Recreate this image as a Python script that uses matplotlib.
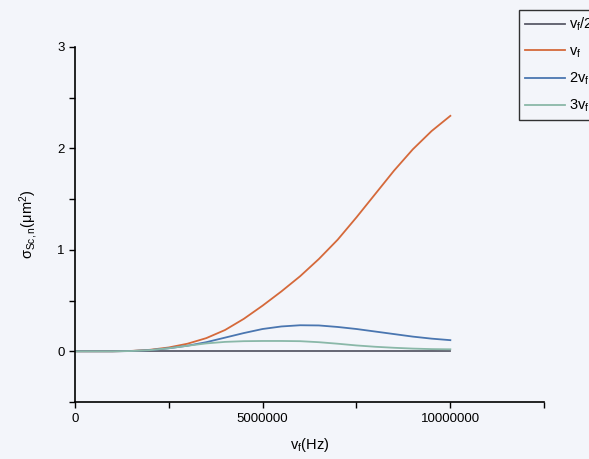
import numpy as np
import matplotlib.pyplot as plt
from matplotlib.ticker import MultipleLocator

plt.rcParams['font.family'] = ['Liberation Sans', 'DejaVu Sans']
plt.rcParams['mathtext.fontset'] = 'custom'
plt.rcParams['mathtext.rm'] = 'Liberation Sans'
plt.rcParams['mathtext.it'] = 'Liberation Sans'

# frequency (Hz) and scattering cross sections (um^2)
freq = [0, 0.5e6, 1.0e6, 1.5e6, 2.0e6, 2.5e6, 3.0e6, 3.5e6, 4.0e6, 4.5e6, 5.0e6,
        5.5e6, 6.0e6, 6.5e6, 7.0e6, 7.5e6, 8.0e6, 8.5e6, 9.0e6, 9.5e6, 10.0e6]
sig_half = [0.0] * len(freq)
sig_1 = [0, 0, 0.0, 0.004, 0.015, 0.038, 0.075, 0.13, 0.21, 0.32, 0.45,
         0.59, 0.74, 0.91, 1.1, 1.32, 1.55, 1.78, 1.99, 2.17, 2.32]
sig_2 = [0, 0, 0.0, 0.003, 0.012, 0.03, 0.055, 0.09, 0.135, 0.18, 0.22,
         0.245, 0.257, 0.255, 0.24, 0.22, 0.195, 0.17, 0.145, 0.125, 0.11]
sig_3 = [0, 0, 0.0, 0.003, 0.012, 0.03, 0.055, 0.078, 0.093, 0.1, 0.102,
         0.102, 0.1, 0.09, 0.075, 0.058, 0.045, 0.035, 0.027, 0.022, 0.02]

labels = [r'v$_f$/2', r'v$_f$', r'2v$_f$', r'3v$_f$']
colors = ['#5a5a68', '#d5693a', '#4a76b0', '#8ab8a8']

fig = plt.figure(figsize=(5.89, 4.59), dpi=100, facecolor='#f3f5fa')
ax = fig.add_axes([0.127, 0.124, 0.797, 0.774])
ax.set_facecolor('#f3f5fa')

for ys, lab, c in zip([sig_half, sig_1, sig_2, sig_3], labels, colors):
    ax.plot(freq, ys, color=c, lw=1.3, label=lab)

ax.set_xlim(0, 12.5e6)
ax.set_ylim(-0.5, 3)
ax.xaxis.set_major_locator(MultipleLocator(5e6))
ax.xaxis.set_minor_locator(MultipleLocator(2.5e6))
ax.yaxis.set_major_locator(MultipleLocator(1))
ax.yaxis.set_minor_locator(MultipleLocator(0.5))
ax.ticklabel_format(axis='x', style='plain', useOffset=False)
ax.tick_params(which='both', direction='out', length=4, width=1, labelsize=9.5)
ax.spines['top'].set_visible(False)
ax.spines['right'].set_visible(False)
ax.spines['left'].set_linewidth(1.2)
ax.spines['bottom'].set_linewidth(1.2)

ax.set_xlabel(r'v$_f$(Hz)', fontsize=10.5, labelpad=8)
ax.set_ylabel(r'$\mathregular{\sigma_{Sc,n}(\mu m^2)}$', fontsize=10.5, labelpad=12)

leg = fig.legend(loc='upper left', bbox_to_anchor=(0.882, 0.978), fontsize=10.5,
                 frameon=True, fancybox=False, edgecolor='black',
                 handlelength=2.7, handletextpad=0.3, labelspacing=0.75,
                 borderpad=0.4, borderaxespad=0)
leg.get_frame().set_facecolor('#f3f5fa')

fig.savefig('out.png', dpi=100, facecolor=fig.get_facecolor())
